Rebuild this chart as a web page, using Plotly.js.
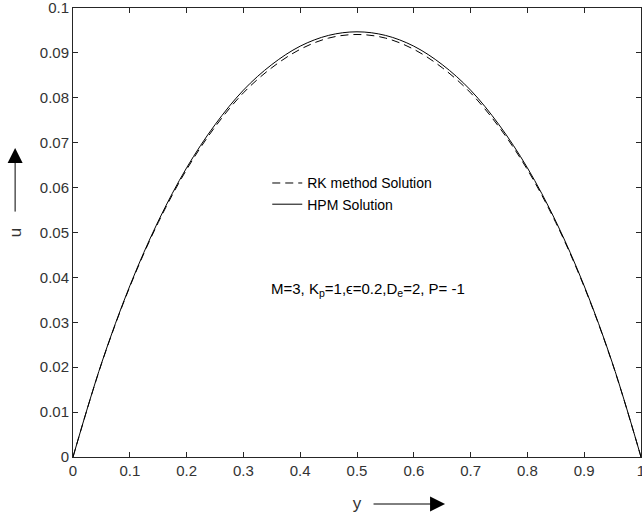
<!DOCTYPE html>
<html>
<head>
<meta charset="utf-8">
<script src="https://cdn.plot.ly/plotly-3.0.1.min.js"></script>
<style>
html,body{margin:0;padding:0;background:#fff;}
#chart{width:642px;height:517px;}
</style>
</head>
<body>
<div id="chart"></div>
<script>
// y positions across the channel
const yPos = [0, 0.05, 0.1, 0.15, 0.2, 0.25, 0.3, 0.35, 0.4, 0.45, 0.5, 0.55, 0.6, 0.65, 0.7, 0.75, 0.8, 0.85, 0.9, 0.95, 1];
// HPM Solution (solid)
const hpmU = [0, 0.0208, 0.0381, 0.0525, 0.0644, 0.0740, 0.0817, 0.0874, 0.0915, 0.0939, 0.0947, 0.0939, 0.0915, 0.0874, 0.0817, 0.0740, 0.0644, 0.0525, 0.0381, 0.0208, 0];
// RK method Solution (dashed)
const rkU = [0, 0.0207, 0.0379, 0.0522, 0.0640, 0.0735, 0.0811, 0.0867, 0.0908, 0.0933, 0.0941, 0.0933, 0.0908, 0.0867, 0.0811, 0.0735, 0.0640, 0.0522, 0.0379, 0.0207, 0];
// tick labels
const xTickVals = [0, 0.1, 0.2, 0.3, 0.4, 0.5, 0.6, 0.7, 0.8, 0.9, 1];
const xTickText = ['0', '0.1', '0.2', '0.3', '0.4', '0.5', '0.6', '0.7', '0.8', '0.9', '1'];
const yTickVals = [0, 0.01, 0.02, 0.03, 0.04, 0.05, 0.06, 0.07, 0.08, 0.09, 0.1];
const yTickText = ['0', '0.01', '0.02', '0.03', '0.04', '0.05', '0.06', '0.07', '0.08', '0.09', '0.1'];
const seriesNames = ['RK method Solution', 'HPM Solution'];
const paramText = 'M=3, K<sub>p</sub>=1,ϵ=0.2,D<sub>e</sub>=2, P= -1';

const FONT = 'Arial, "Liberation Sans", Helvetica, sans-serif';
const AX = '#262626';

const traces = [
  {x: yPos, y: rkU, name: seriesNames[0], mode: 'lines', line: {color: '#000', width: 1, dash: '8px,5px', shape: 'spline'}},
  {x: yPos, y: hpmU, name: seriesNames[1], mode: 'lines', line: {color: '#000', width: 1, shape: 'spline'}}
];

const axisCommon = {
  showgrid: false, zeroline: false, showline: true, linecolor: AX, linewidth: 1,
  mirror: 'ticks', ticks: 'inside', ticklen: 5, tickcolor: AX, tickwidth: 1,
  ticklabeloverflow: 'allow',
  tickfont: {family: FONT, size: 15, color: '#333'}
};

const layout = {
  width: 642, height: 517,
  margin: {l: 73, r: 1, t: 8, b: 60},
  paper_bgcolor: '#fff', plot_bgcolor: '#fff',
  font: {family: FONT, color: '#000'},
  showlegend: true,
  legend: {x: 0.342, xanchor: 'left', y: 0.645, yanchor: 'top', bgcolor: 'rgba(0,0,0,0)',
           font: {family: FONT, size: 14, color: '#000'}, tracegroupgap: 0},
  xaxis: Object.assign({}, axisCommon, {range: [0, 1], tickvals: xTickVals, ticktext: xTickText,
    title: {text: 'y', font: {family: FONT, size: 17, color: '#333'}, standoff: 19}}),
  yaxis: Object.assign({}, axisCommon, {range: [0, 0.1], tickvals: yTickVals, ticktext: yTickText,
    title: {text: 'u', font: {family: FONT, size: 17, color: '#333'}, standoff: 13}}),
  annotations: [
    {xref: 'paper', yref: 'paper', x: 0.519, y: 0.372, xanchor: 'center', yanchor: 'middle',
     text: paramText, showarrow: false, font: {family: FONT, size: 15, color: '#000'}},
    {xref: 'paper', yref: 'paper', x: 0.655, y: -0.1047, ax: -73, ay: 0, text: '',
     showarrow: true, arrowhead: 2, arrowsize: 3, arrowwidth: 1, arrowcolor: '#000'},
    {xref: 'paper', yref: 'paper', x: -0.1019, y: 0.688, ax: 0, ay: 65, text: '',
     showarrow: true, arrowhead: 2, arrowsize: 3, arrowwidth: 1, arrowcolor: '#000'}
  ]
};

Plotly.newPlot('chart', traces, layout, {displayModeBar: false, staticPlot: true});
</script>
</body>
</html>
